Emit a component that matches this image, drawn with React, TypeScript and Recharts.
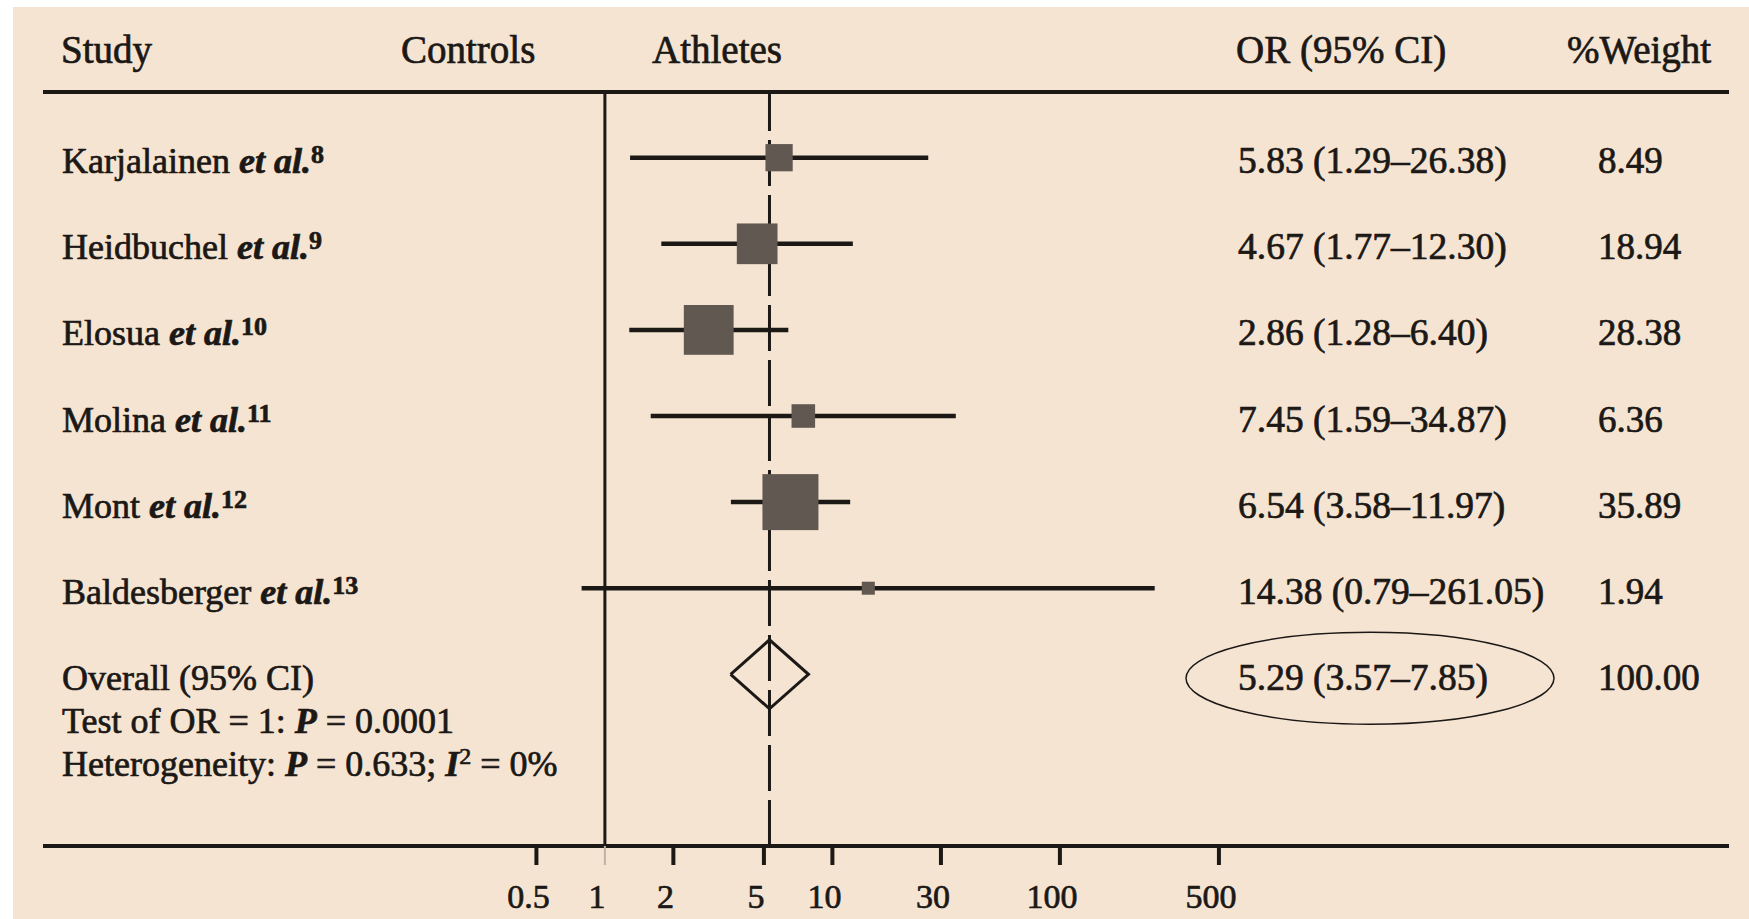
import React from 'react'
import { ComposedChart, Scatter, XAxis, YAxis, ReferenceLine } from 'recharts'

// study rows, top to bottom
const studies = ['Karjalainen', 'Heidbuchel', 'Elosua', 'Molina', 'Mont', 'Baldesberger']
const refNumbers = ['8', '9', '10', '11', '12', '13']
const oddsRatios = [5.83, 4.67, 2.86, 7.45, 6.54, 14.38]
const ciLower = [1.29, 1.77, 1.28, 1.59, 3.58, 0.79]
const ciUpper = [26.38, 12.3, 6.4, 34.87, 11.97, 261.05]
const weights = [8.49, 18.94, 28.38, 6.36, 35.89, 1.94]

// pooled estimate: OR, lower, upper
const pooled = [5.29, 3.57, 7.85]
const pooledWeight = 100

const xTicks = [0.5, 1, 2, 5, 10, 30, 100, 500]

const ink = '#1b1816'
const boxFill = '#615852'
const paper = '#f5e4d2'
const serif = '"Liberation Serif", "Times New Roman", serif'

const overallRow = studies.length
const rowTicks = [...studies.map((_, i) => i), overallRow, overallRow + 0.5, overallRow + 1]
const xDomain = [0.00339, 87300]
const yDomain = [-0.763, 7.994]
const maxBox = 56
const diamondHalf = 0.4

const COL_STUDY = 49
const COL_OR = 1225
const COL_WEIGHT = 1585

const txt = { fontFamily: serif, fill: ink, stroke: ink, strokeWidth: 0.7 }

const fmtCI = (or: number, lo: number, hi: number) =>
  `${or.toFixed(2)} (${lo.toFixed(2)}–${hi.toFixed(2)})`

const boxData = studies.map((s, i) => ({ x: oddsRatios[i], y: i, w: weights[i] }))
const diamondData = [
  { x: pooled[1], y: overallRow },
  { x: pooled[0], y: overallRow - diamondHalf },
  { x: pooled[2], y: overallRow },
  { x: pooled[0], y: overallRow + diamondHalf },
  { x: pooled[1], y: overallRow },
]

const maxW = Math.max(...weights)

function WeightBox(props: any) {
  const { cx, cy, payload } = props
  const s = maxBox * Math.sqrt(payload.w / maxW)
  return <rect x={cx - s / 2} y={cy - s / 2} width={s} height={s} fill={boxFill} />
}

function OddsTick(props: any) {
  const { x, y, payload } = props
  const faint = payload.value === 1
  return (
    <g>
      <line x1={x} y1={y} x2={x} y2={y + 19} stroke={faint ? '#bfb2a5' : ink} strokeWidth={faint ? 2 : 4} />
      <text x={x - 8} y={y + 62} textAnchor="middle" fontSize={34} {...txt}>
        {payload.value}
      </text>
    </g>
  )
}

function RowLabel(props: any) {
  const { y, payload } = props
  const v = Number(payload.value)
  const base = y + 15.5
  if (v < overallRow) {
    return (
      <g>
        <text x={COL_STUDY} y={base} fontSize={36} {...txt}>
          {studies[v]}{' '}
          <tspan fontStyle="italic" fontWeight="bold">et al.</tspan>
          <tspan fontWeight="bold" fontSize={26} dy={-10}>{refNumbers[v]}</tspan>
        </text>
        <text x={COL_OR} y={base} fontSize={37.5} {...txt}>
          {fmtCI(oddsRatios[v], ciLower[v], ciUpper[v])}
        </text>
        <text x={COL_WEIGHT} y={base} fontSize={37} {...txt}>
          {weights[v].toFixed(2)}
        </text>
      </g>
    )
  }
  if (v === overallRow) {
    return (
      <g>
        <text x={COL_STUDY} y={base} fontSize={36} {...txt}>Overall (95% CI)</text>
        <ellipse cx={1357} cy={y + 4} rx={184} ry={46} fill="none" stroke={ink} strokeWidth={1.5} />
        <text x={COL_OR} y={base} fontSize={37.5} {...txt}>
          {fmtCI(pooled[0], pooled[1], pooled[2])}
        </text>
        <text x={COL_WEIGHT} y={base} fontSize={37} {...txt}>
          {pooledWeight.toFixed(2)}
        </text>
      </g>
    )
  }
  if (v === overallRow + 0.5) {
    return (
      <text x={COL_STUDY} y={base} fontSize={36} {...txt}>
        Test of OR = 1: <tspan fontStyle="italic" fontWeight="bold">P</tspan> = 0.0001
      </text>
    )
  }
  return (
    <text x={COL_STUDY} y={base} fontSize={36} {...txt}>
      Heterogeneity: <tspan fontStyle="italic" fontWeight="bold">P</tspan> = 0.633;{' '}
      <tspan fontStyle="italic" fontWeight="bold">I</tspan>
      <tspan fontSize={24} dy={-12}>2</tspan>
      <tspan dy={12}> = 0%</tspan>
    </text>
  )
}

export default function App() {
  return (
    <div style={{ position: 'absolute', top: 7, left: 13, width: 1736, height: 912, background: paper }}>
      <ComposedChart
        width={1736}
        height={912}
        margin={{ top: 85, right: 20, bottom: 0, left: 29 }}
      >
        <XAxis
          type="number"
          dataKey="x"
          scale="log"
          domain={xDomain}
          allowDataOverflow
          ticks={xTicks}
          interval={0}
          height={73}
          axisLine={{ stroke: ink, strokeWidth: 4 }}
          tickLine={false}
          tickSize={0}
          tickMargin={0}
          tick={<OddsTick />}
        />
        {/* row labels and the right-hand columns hang off the y ticks */}
        <YAxis
          type="number"
          dataKey="y"
          domain={yDomain}
          reversed
          allowDataOverflow
          width={1}
          ticks={rowTicks}
          interval={0}
          axisLine={false}
          tickLine={false}
          tickSize={0}
          tickMargin={0}
          tick={<RowLabel />}
        />

        {/* column headings */}
        <g fontSize={39} {...txt}>
          <text x={48} y={56}>Study</text>
          <text x={388} y={56}>Controls</text>
          <text x={639} y={56}>Athletes</text>
          <text x={1223} y={56}>OR (95% CI)</text>
          <text x={1554} y={56}>%Weight</text>
        </g>

        <ReferenceLine y={yDomain[0]} stroke={ink} strokeWidth={4} />
        <ReferenceLine x={1} stroke={ink} strokeWidth={3} />
        <ReferenceLine x={pooled[0]} stroke={ink} strokeWidth={3} strokeDasharray="46 9" />

        {studies.map((s, i) => (
          <ReferenceLine
            key={s}
            segment={[{ x: ciLower[i], y: i }, { x: ciUpper[i], y: i }]}
            stroke={ink}
            strokeWidth={4.5}
          />
        ))}

        <Scatter data={boxData} shape={<WeightBox />} isAnimationActive={false} />
        <Scatter
          data={diamondData}
          line={{ stroke: ink, strokeWidth: 3 }}
          shape={() => <g />}
          isAnimationActive={false}
        />
      </ComposedChart>
    </div>
  )
}
